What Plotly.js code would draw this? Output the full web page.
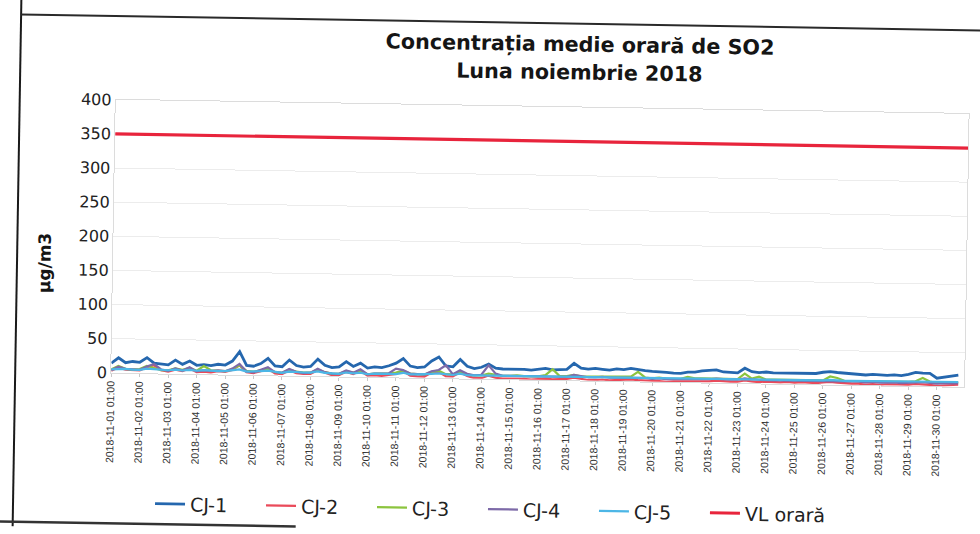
<!DOCTYPE html>
<html>
<head>
<meta charset="utf-8">
<script src="https://cdn.plot.ly/plotly-3.0.1.min.js"></script>
<style>
  html, body { margin: 0; padding: 0; background: #ffffff; overflow: hidden; }
  #chart { width: 980px; height: 534px; transform: rotate(0.95deg); transform-origin: 490px 267px; }
</style>
</head>
<body>
<div id="chart"></div>
<script>
// ---- data (6-hour samples) ----
const days = ["01","02","03","04","05","06","07","08","09","10","11","12","13","14","15",
              "16","17","18","19","20","21","22","23","24","25","26","27","28","29","30"];
const sampleHours = ["01:00", "07:00", "13:00", "19:00"];
const seriesNames = ["CJ-1", "CJ-2", "CJ-3", "CJ-4", "CJ-5"];
const seriesColors = ["#2567ae", "#ea4a5a", "#8cc43e", "#7d6aa8", "#4cb6e6"];

const cj1 = [14,22,15,17, 16,23,15,14, 13,20,14,19, 13,14,13,15, 14,20,34,14, 13,17,25,14,
             13,23,15,13, 14,25,16,13, 14,22,15,20, 13,15,14,17, 21,28,17,15, 16,25,31,18,
             17,28,18,15, 17,22,16,15, 15,16,15,14, 15,17,15,16, 16,25,18,17, 18,17,16,18,
             17,19,17,16, 15,15,14,13, 13,15,15,17, 18,19,16,15, 15,22,17,16, 17,16,16,17,
             16,17,16,16, 18,19,18,17, 17,16,15,16, 15,15,16,15, 17,20,19,19, 12,14,15,17];
const cj2 = [3,8,5,4, 4,9,12,5, 3,6,4,8, 3,4,3,5, 4,7,14,4, 3,6,10,3,
             2,8,4,3, 3,9,5,2, 2,7,4,9, 2,3,2,4, 5,10,3,2, 2,8,9,3,
             3,9,4,1, 1,5,2,1, 1,2,1,0, 1,2,1,1, 2,4,2,1, 1,2,1,2,
             2,3,2,1, 1,1,0,1, 1,2,2,1, 2,3,2,2, 2,4,3,2, 3,2,2,3,
             2,3,2,2, 3,4,3,2, 2,2,1,2, 1,2,2,1, 2,3,3,2, 1,2,2,3];
const cj3 = [5,10,6,5, 6,11,8,5, 5,8,6,9, 5,12,6,5, 5,8,14,6, 5,7,9,5,
             4,9,6,5, 5,10,6,4, 4,8,6,8, 4,5,5,6, 7,10,6,5, 5,9,11,6,
             6,10,6,5, 5,8,6,5, 5,6,5,5, 5,7,16,6, 6,8,6,6, 6,7,6,6,
             6,7,14,6, 5,6,5,5, 5,8,6,6, 6,7,6,6, 6,14,7,10, 6,6,6,6,
             6,7,6,6, 6,12,10,6, 6,6,5,6, 5,6,6,5, 6,7,12,7, 5,6,6,6];
const cj4 = [4,9,6,5, 5,10,14,6, 4,8,5,10, 4,6,5,6, 5,9,16,5, 4,8,12,5,
             4,10,6,4, 5,11,6,4, 4,9,6,11, 4,5,5,6, 13,11,6,5, 5,10,12,19,
             6,12,7,5, 6,20,8,5, 5,6,5,5, 5,6,5,5, 5,8,6,5, 5,6,5,5,
             5,6,6,5, 4,5,4,4, 4,5,5,5, 5,6,5,5, 5,7,6,5, 5,5,5,5,
             5,6,5,5, 5,6,6,5, 5,5,4,5, 4,5,5,4, 5,6,6,5, 4,5,5,5];
const cj5 = [5,6,6,5, 5,7,6,5, 5,6,5,6, 5,6,5,5, 5,6,8,5, 5,6,7,5,
             4,6,5,5, 5,7,5,4, 4,6,5,6, 4,5,5,5, 5,7,5,5, 5,6,7,6,
             5,7,5,5, 5,6,5,5, 5,5,5,5, 5,6,5,5, 5,6,5,5, 5,5,5,6,
             6,6,5,5, 5,5,5,5, 5,5,6,6, 6,6,6,5, 5,6,6,6, 6,6,6,6,
             6,6,6,6, 6,7,6,6, 6,6,6,6, 6,6,6,6, 6,7,7,6, 6,6,6,7];
const vlName = "VL orară";
const vlTimes = ["2018-11-01 01:00", "2018-12-01 00:00"];
const vlValues = [350, 350];
const tickLabels = days.map(d => "2018-11-" + d + " 01:00");
const yTicks = [0, 50, 100, 150, 200, 250, 300, 350, 400];
const titleLines = ["Concentrația medie orară de SO2", "Luna noiembrie 2018"];
const yTitle = "µg/m3";

// ---- build ----
const times = [];
days.forEach(d => sampleHours.forEach(h => times.push("2018-11-" + d + " " + h)));
const seriesValues = [cj1, cj2, cj3, cj4, cj5];

const traces = seriesValues.map((vals, i) => ({
  type: "scatter", mode: "lines", name: seriesNames[i],
  x: times, y: vals, legend: "legend",
  line: { color: seriesColors[i], width: i === 0 ? 2.8 : 2.2 }
}));
traces.push({
  type: "scatter", mode: "lines", name: vlName,
  x: vlTimes, y: vlValues, legend: "legend2",
  line: { color: "#e8243c", width: 3.2 }
});

// plot area in px (before the scan tilt): left 113, right 966, top 105.9, bottom 379.5
const PL = 113, PR = 966, PT = 105.9, PB = 379.5, W = 980, H = 534;
const px = v => (v - PL) / (PR - PL);
const py = v => (PB - v) / (PB - PT);
const FONT = "DejaVu Sans, Arial, sans-serif";
const TICKFONT = "'Liberation Sans', Arial, sans-serif";
const legendFont = { family: FONT, size: 19, color: "#222222" };

const layout = {
  width: W, height: H,
  paper_bgcolor: "#ffffff", plot_bgcolor: "#ffffff",
  margin: { l: PL, r: W - PR, t: PT, b: H - PB, autoexpand: false },
  font: { family: FONT, color: "#222222" },
  xaxis: {
    type: "date",
    range: ["2018-11-01 01:00", "2018-12-01 00:00"],
    tickmode: "array", tickvals: tickLabels, ticktext: tickLabels,
    tickangle: -90,
    tickfont: { family: TICKFONT, size: 10.5, color: "#333333" },
    ticks: "outside", ticklen: 3, tickcolor: "#c8c8c8",
    ticklabelstandoff: 0,
    showgrid: false, zeroline: false,
    showline: true, linecolor: "#dcdcdc", linewidth: 1, mirror: true,
    automargin: false
  },
  yaxis: {
    range: [0, 400], tickmode: "array", tickvals: yTicks,
    tickfont: { family: FONT, size: 16, color: "#222222" },
    showgrid: true, gridcolor: "#ececec", gridwidth: 1,
    zeroline: false, showline: true, linecolor: "#dcdcdc", mirror: true,
    ticks: "", automargin: false
  },
  showlegend: true,
  legend: {
    orientation: "h", x: px(154), xanchor: "left", y: py(510), yanchor: "middle",
    font: legendFont, entrywidth: 66, entrywidthmode: "pixels",
    bgcolor: "rgba(0,0,0,0)", itemclick: false
  },
  legend2: {
    orientation: "h", x: px(709), xanchor: "left", y: py(510), yanchor: "middle",
    font: legendFont, bgcolor: "rgba(0,0,0,0)", itemclick: false
  },
  annotations: [
    { text: "<b>" + titleLines[0] + "</b>", showarrow: false,
      xref: "paper", yref: "paper", x: px(576), y: py(43.5),
      xanchor: "center", yanchor: "middle",
      font: { family: FONT, size: 20.7, color: "#151515" } },
    { text: "<b>" + titleLines[1] + "</b>", showarrow: false,
      xref: "paper", yref: "paper", x: px(576), y: py(70.5),
      xanchor: "center", yanchor: "middle",
      font: { family: FONT, size: 20.7, color: "#151515" } },
    { text: "<b>" + yTitle + "</b>", textangle: -90, showarrow: false,
      xref: "paper", yref: "paper", x: px(44), y: py(270.8),
      xanchor: "center", yanchor: "middle",
      font: { family: FONT, size: 17, color: "#151515" } }
  ],
  shapes: [
    { type: "line", xref: "paper", yref: "paper", x0: px(17), x1: px(17), y0: py(-20), y1: py(560),
      line: { color: "#1a1a1a", width: 2 } },
    { type: "line", xref: "paper", yref: "paper", x0: px(17), x1: px(1010), y0: py(22), y1: py(22),
      line: { color: "#2a2a2a", width: 2 } },
    { type: "line", xref: "paper", yref: "paper", x0: px(-30), x1: px(300), y0: py(530.5), y1: py(530.5),
      line: { color: "#333333", width: 2.5 } }
  ]
};

Plotly.newPlot("chart", traces, layout, { staticPlot: true, displayModeBar: false });
</script>
</body>
</html>
